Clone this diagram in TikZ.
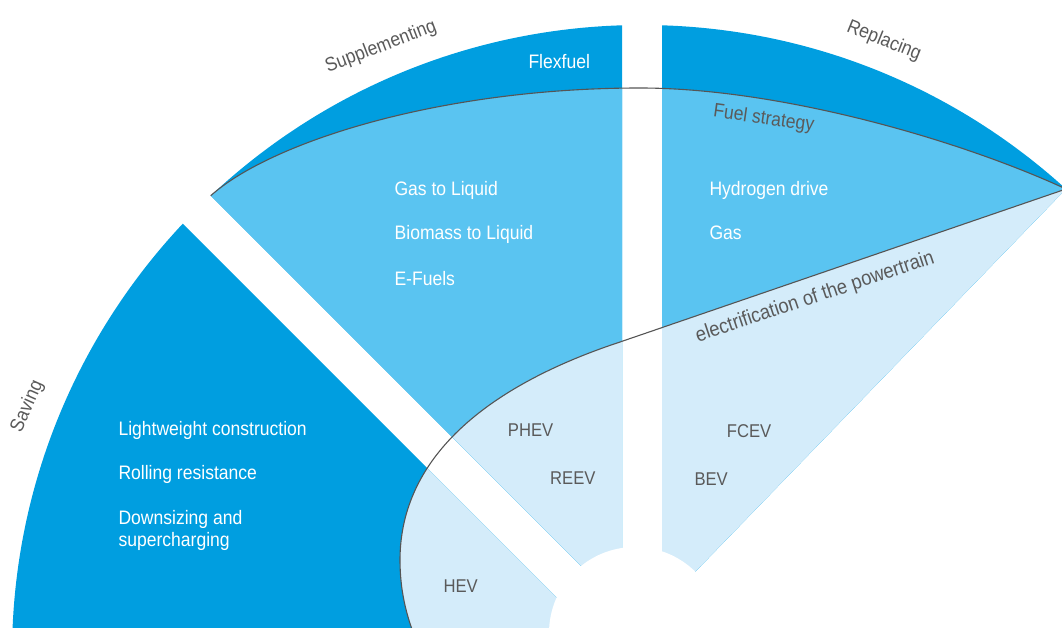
\documentclass[tikz,border=0pt]{standalone}
\usepackage{fontspec}
\setmainfont{Liberation Sans}
\newfontfamily\fanfam[FakeStretch=0.9]{Liberation Sans}
\newcommand\fanfont{\fanfam\fontsize{19.5}{23}\selectfont}
\newcommand\evfont{\fanfam\fontsize{18.5}{22}\selectfont}
\newcommand\curvefont{\fanfam\fontsize{19.5}{23}\selectfont}
\newcommand\elecfont{\fanfam\fontsize{20.5}{24}\selectfont}

\definecolor{fandark}{RGB}{0,158,224}
\definecolor{fanmid}{RGB}{90,196,241}
\definecolor{fanpale}{RGB}{212,236,250}
\definecolor{linegray}{RGB}{85,85,85}
\definecolor{labelgray}{RGB}{90,90,90}

\tikzset{
  intxt/.style={text=white, font=\fanfont, anchor=base west, inner sep=0pt},
  evtxt/.style={text=labelgray, font=\evfont, anchor=base west, inner sep=0pt},
  arctxt/.style={text=labelgray, font=\fanfont, inner sep=0pt},
  curvetxt/.style={text=labelgray, font=\curvefont, anchor=base, inner sep=0pt},
  divider/.style={draw=linegray, line width=1.1pt},
}

\begin{document}
\begin{tikzpicture}[x=1pt,y=-1pt]
  \useasboundingbox (0,0) rectangle (1062,628);
  \clip (0,0) rectangle (1062,628);

  % key points of the fan
  \coordinate (C) at (642,655);        % centre of the outer arc
  \coordinate (H) at (635,633);        % centre of the white hub
  \coordinate (T) at (1066,189);       % right tip where both curves meet
  \coordinate (F0) at (210.7,195.7);   % left end of the fuel strategy curve
  \coordinate (E1) at (620,342);       % where the electrification curve starts to bend
  \coordinate (E2) at (400,560);
  \coordinate (E3) at (416,640);

  \begin{scope}
    \clip (C) circle[radius=630pt];
    % all three sectors: dark base
    \begin{scope}
      \clip (622,607) -- (622,-200) -- (-185,-200) -- cycle
            (662,606) -- (662,-100) -- (1200,-100) -- (1200,50.5) -- cycle
            (-300,-259) -- (900,941) -- (-300,941) -- cycle;
      \fill[fandark] (-10,-10) rectangle (1100,700);
    \end{scope}
    % supplementing and replacing sectors: region below the fuel strategy curve
    \begin{scope}
      \clip (622,607) -- (622,-200) -- (-185,-200) -- cycle
            (662,606) -- (662,-100) -- (1200,-100) -- (1200,50.5) -- cycle;
      \fill[fanmid] (F0) .. controls (271,142) and (440,88) .. (640,88)
            .. controls (780,88) and (960,140) .. (T)
            -- (1300,189) -- (1300,720) -- (150,720) -- (150,195.7) -- cycle;
    \end{scope}
    % all sectors: region beyond the electrification curve
    \begin{scope}
      \clip (622,607) -- (622,-200) -- (-185,-200) -- cycle
            (662,606) -- (662,-100) -- (1200,-100) -- (1200,50.5) -- cycle
            (-300,-259) -- (900,941) -- (-300,941) -- cycle;
      \fill[fanpale] (T) -- (E1) .. controls (475,390) and (400,465) .. (E2)
            .. controls (400,590) and (406,615) .. (E3)
            -- (430,720) -- (1300,720) -- (1300,189) -- cycle;
    \end{scope}
  \end{scope}

  % white hub
  \fill[white] (H) circle[radius=86pt];

  % dividing curves
  \draw[divider] (F0) .. controls (271,142) and (440,88) .. (640,88)
        .. controls (780,88) and (960,140) .. (T);
  \draw[divider] (T) -- (E1) .. controls (475,390) and (400,465) .. (E2)
        .. controls (400,590) and (406,615) .. (E3);

  % labels round the arc
  \node[arctxt, rotate=21] (lsupp) at (381,47) {Supplementing};
  \node[arctxt, rotate=-22] (lrepl) at (884,41) {Replacing};
  \node[arctxt, rotate=66] (lsave) at (27.5,406.5) {Saving};

  % labels along the curves
  \node[curvetxt, rotate=-8] (lfuel) at (763,124) {Fuel strategy};
  \node[curvetxt, rotate=18.5, font=\elecfont] (lelec) at (816.7,302.5) {electrification of the powertrain};

  % saving
  \node[intxt] (light) at (118.3,435) {Lightweight construction};
  \node[intxt] (roll) at (118.3,479.3) {Rolling resistance};
  \node[intxt] (down) at (118.3,524) {Downsizing and};
  \node[intxt] (super) at (118.3,546.7) {supercharging};

  % supplementing
  \node[intxt] (flex) at (528.3,68.3) {Flexfuel};
  \node[intxt] (gtl) at (394.3,196) {Gas to Liquid};
  \node[intxt] (btl) at (394.5,240) {Biomass to Liquid};
  \node[intxt] (efuel) at (394.3,285) {E-Fuels};

  % replacing
  \node[intxt] (hydro) at (709.3,196) {Hydrogen drive};
  \node[intxt] (gas) at (709.3,240) {Gas};

  % powertrain variants
  \node[evtxt] (phev) at (507.7,436) {PHEV};
  \node[evtxt] (reev) at (550,484) {REEV};
  \node[evtxt] (hev) at (443.3,592) {HEV};
  \node[evtxt] (fcev) at (726.7,437.3) {FCEV};
  \node[evtxt] (bev) at (694.3,485) {BEV};
\end{tikzpicture}
\end{document}
